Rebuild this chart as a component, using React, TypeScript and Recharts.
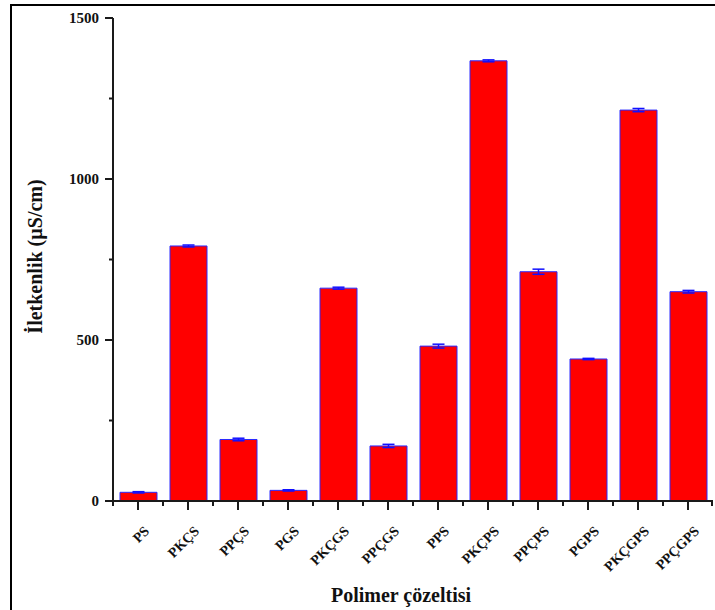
import { Bar, BarChart, ErrorBar, XAxis, YAxis } from "recharts"

const samples = ["PS", "PKÇS", "PPÇS", "PGS", "PKÇGS", "PPÇGS", "PPS", "PKÇPS", "PPÇPS", "PGPS", "PKÇGPS", "PPÇGPS"]
const conductivity = [27, 792, 191, 33, 661, 171, 481, 1367, 712, 441, 1214, 650]
const conductivityErr = [2, 3, 4, 2, 3, 5, 6, 3, 8, 2, 5, 4]
const yMajorTicks = [0, 500, 1000, 1500]
const yMinorTicks = [250, 750, 1250]

const chartData = samples.map((name, i) => ({
  name,
  value: conductivity[i],
  err: conductivityErr[i],
}))

const serif = "'Liberation Serif', 'Times New Roman', serif"
const axisColor = "#1a1a1a"
const halfBand = 25

const YTick = (props: any) => {
  const { x, y, payload } = props
  const major = yMajorTicks.includes(payload.value)
  return (
    <g>
      <line x1={x - (major ? 8 : 4)} y1={y} x2={x} y2={y} stroke={axisColor} strokeWidth={2} />
      {major && (
        <text
          x={x - 14}
          y={y}
          dy="0.35em"
          textAnchor="end"
          fontFamily={serif}
          fontWeight="bold"
          fontSize={15}
          fill="#111"
        >
          {payload.value}
        </text>
      )}
    </g>
  )
}

const XTick = (props: any) => {
  const { x, y, payload, index } = props
  const last = index === samples.length - 1
  return (
    <g>
      <line x1={x} y1={y} x2={x} y2={y + 9} stroke={axisColor} strokeWidth={2} />
      <line x1={x - halfBand} y1={y} x2={x - halfBand} y2={y + 5} stroke={axisColor} strokeWidth={2} />
      {last && (
        <line x1={x + halfBand - 1} y1={y} x2={x + halfBand - 1} y2={y + 5} stroke={axisColor} strokeWidth={2} />
      )}
      <text
        x={x + 12}
        y={y + 31}
        textAnchor="end"
        transform={`rotate(-45 ${x + 12} ${y + 31})`}
        fontFamily={serif}
        fontWeight="bold"
        fontSize={14}
        fill="#111"
      >
        {payload.value}
      </text>
    </g>
  )
}

export default function App() {
  return (
    <div
      style={{
        position: "absolute",
        left: 0,
        top: 0,
        width: 715,
        height: 610,
        overflow: "hidden",
        background: "#fff",
      }}
    >
      <div
        style={{
          position: "absolute",
          left: 10,
          top: 4,
          width: 720,
          height: 620,
          borderLeft: "2px solid #000",
          borderTop: "2px solid #000",
        }}
      />
      <BarChart
        width={715}
        height={610}
        data={chartData}
        margin={{ top: 18, right: 2, bottom: 0, left: 8 }}
        style={{ position: "absolute", left: 0, top: 0 }}
      >
        <XAxis
          dataKey="name"
          height={109}
          interval={0}
          tickSize={0}
          tickMargin={0}
          tickLine={false}
          tick={<XTick />}
          axisLine={{ stroke: axisColor, strokeWidth: 2 }}
          label={{
            value: "Polimer çözeltisi",
            position: "insideBottom",
            offset: 8,
            dx: -12,
            style: { fontFamily: serif, fontWeight: "bold", fontSize: 20, fill: "#111" },
          }}
        />
        <YAxis
          width={105}
          domain={[0, 1500]}
          ticks={[...yMajorTicks, ...yMinorTicks].sort((a, b) => a - b)}
          interval={0}
          tickSize={0}
          tickMargin={0}
          tickLine={false}
          tick={<YTick />}
          axisLine={{ stroke: axisColor, strokeWidth: 2 }}
          label={{
            value: "İletkenlik (µS/cm)",
            angle: -90,
            position: "insideLeft",
            offset: 27,
            dy: -3,
            style: { textAnchor: "middle", fontFamily: serif, fontWeight: "bold", fontSize: 20, fill: "#111" },
          }}
        />
        <Bar
          dataKey="value"
          barSize={37}
          fill="#ff0000"
          stroke="#2a2aff"
          strokeWidth={1}
          isAnimationActive={false}
        >
          <ErrorBar dataKey="err" width={6} stroke="#1010ff" strokeWidth={1.5} isAnimationActive={false} />
        </Bar>
      </BarChart>
    </div>
  )
}
